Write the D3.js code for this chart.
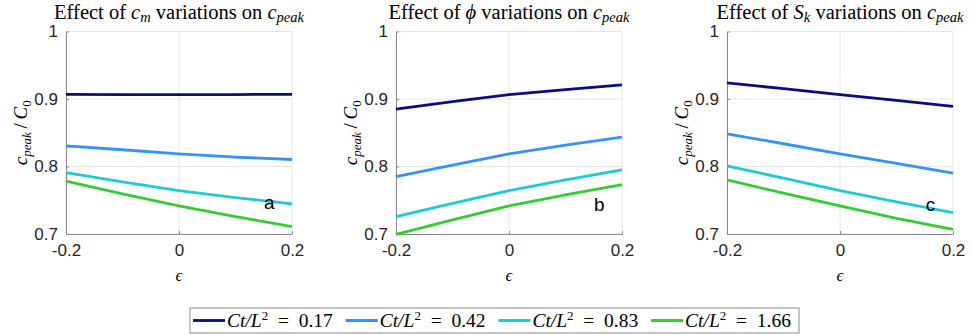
<!DOCTYPE html>
<html>
<head>
<meta charset="utf-8">
<script src="https://cdn.jsdelivr.net/npm/d3@7/dist/d3.min.js"></script>
<style>
  html, body { margin: 0; padding: 0; background: #fff; }
  svg { display: block; }
  .tick-label { font-family: "Liberation Sans", Arial, sans-serif; font-size: 17px; fill: #262626; }
  .serif { font-family: "Liberation Serif", "DejaVu Serif", serif; fill: #000; }
</style>
</head>
<body>
<svg id="chart" width="974" height="335"></svg>
<script>
// ---------------- data ----------------
const epsilon = [-0.2, -0.1, 0, 0.1, 0.2];
const seriesLabels = ["0.17", "0.42", "0.83", "1.66"];

// Effect of c_m
const cmSeries = [
  [0.907, 0.9066, 0.9064, 0.9066, 0.907],
  [0.8307, 0.8248, 0.8188, 0.8139, 0.8104],
  [0.7911, 0.7772, 0.7644, 0.7540, 0.7446],
  [0.7782, 0.7594, 0.7416, 0.7257, 0.7109]
];
// Effect of phi
const phiSeries = [
  [0.8851, 0.8960, 0.9064, 0.9140, 0.9208],
  [0.7851, 0.8020, 0.8188, 0.8317, 0.8436],
  [0.7257, 0.7455, 0.7644, 0.7802, 0.7950],
  [0.6995, 0.7208, 0.7416, 0.7580, 0.7733]
];
// Effect of S_k
const skSeries = [
  [0.9238, 0.9153, 0.9064, 0.8980, 0.8891],
  [0.8485, 0.8337, 0.8188, 0.8045, 0.7901],
  [0.8010, 0.7827, 0.7644, 0.7475, 0.7317],
  [0.7802, 0.7604, 0.7416, 0.7233, 0.7069]
];

const xTicks = [-0.2, 0, 0.2];
const xTickLabels = ["-0.2", "0", "0.2"];
const yTicks = [0.7, 0.8, 0.9, 1];
const yTickLabels = ["0.7", "0.8", "0.9", "1"];
const panelLetters = ["a", "b", "c"];
const letterEps = [0.16, 0.16, 0.16];
const letterVal = [0.746, 0.743, 0.744];

// ---------------- style / layout ----------------
const colors = ["#0b0b82", "#3392ff", "#1ccbd4", "#33cc33"];
const panelLefts = [66, 396, 727];
const plotW = 226;
const plotTop = 31.5, plotBottom = 234;
const titles = [
  { pre: "Effect of ", sym: "c", sub: "m" },
  { pre: "Effect of ", sym: "\u03D5", sub: null },
  { pre: "Effect of ", sym: "S", sub: "k" }
];
const panels = [cmSeries, phiSeries, skSeries];

const svg = d3.select("#chart");

panels.forEach((series, pi) => {
  const x = d3.scaleLinear().domain([-0.2, 0.2]).range([panelLefts[pi], panelLefts[pi] + plotW]);
  const y = d3.scaleLinear().domain([0.7, 1]).range([plotBottom, plotTop]);
  const g = svg.append("g");

  // grid
  g.selectAll(".gx").data(xTicks).enter().append("line")
    .attr("x1", d => x(d)).attr("x2", d => x(d))
    .attr("y1", plotTop).attr("y2", plotBottom)
    .attr("stroke", "#e6e6e6").attr("stroke-width", 1);
  g.selectAll(".gy").data(yTicks).enter().append("line")
    .attr("x1", x(-0.2)).attr("x2", x(0.2))
    .attr("y1", d => y(d)).attr("y2", d => y(d))
    .attr("stroke", "#e6e6e6").attr("stroke-width", 1);

  // axes
  const xAxis = d3.axisBottom(x).tickValues(xTicks).tickFormat((d, i) => xTickLabels[i])
    .tickSizeInner(-3).tickSizeOuter(0).tickPadding(10);
  const yAxis = d3.axisLeft(y).tickValues(yTicks).tickFormat((d, i) => yTickLabels[i])
    .tickSizeInner(-3).tickSizeOuter(0).tickPadding(8);

  const gx = g.append("g").attr("transform", `translate(0,${plotBottom})`).call(xAxis);
  const gy = g.append("g").attr("transform", `translate(${panelLefts[pi]},0)`).call(yAxis);
  [gx, gy].forEach(a => {
    a.select(".domain").attr("stroke", "#8c8c8c").attr("stroke-width", 1);
    a.selectAll(".tick line").attr("stroke", "#8c8c8c");
    a.selectAll(".tick text").attr("class", "tick-label").attr("font-size", null).attr("font-family", null);
  });
  gx.selectAll(".tick text").attr("dy", "0.71em");

  // lines
  const line = d3.line().x((d, i) => x(epsilon[i])).y(d => y(d));
  g.selectAll(".series").data(series).enter().append("path")
    .attr("d", d => line(d))
    .attr("fill", "none")
    .attr("stroke", (d, i) => colors[i])
    .attr("stroke-width", 2.8)
    .attr("stroke-linejoin", "round");

  // panel letter
  g.append("text")
    .attr("x", x(letterEps[pi])).attr("y", y(letterVal[pi]))
    .attr("text-anchor", "middle").attr("dominant-baseline", "central")
    .attr("font-family", "Liberation Sans, Arial, sans-serif")
    .attr("font-size", 19).attr("fill", "#000")
    .text(panelLetters[pi]);

  // title
  const cx = x(0);
  const t = g.append("text").attr("class", "serif")
    .attr("x", cx).attr("y", 19).attr("text-anchor", "middle").attr("font-size", 20.5);
  t.append("tspan").text(titles[pi].pre);
  t.append("tspan").attr("font-style", "italic").text(titles[pi].sym);
  if (titles[pi].sub) t.append("tspan").attr("font-style", "italic").attr("font-size", 14.5).attr("dy", 3).text(titles[pi].sub);
  t.append("tspan").attr("dy", titles[pi].sub ? -3 : 0).text(" variations on ");
  t.append("tspan").attr("font-style", "italic").text("c");
  t.append("tspan").attr("font-style", "italic").attr("font-size", 14.5).attr("dy", 3).text("peak");

  // y label
  const yl = g.append("text").attr("class", "serif")
    .attr("transform", `translate(${panelLefts[pi] - 39},${(plotTop + plotBottom) / 2}) rotate(-90)`)
    .attr("text-anchor", "middle").attr("font-size", 19).attr("font-style", "italic").attr("fill", "#262626");
  yl.append("tspan").text("c");
  yl.append("tspan").attr("font-size", 13).attr("dy", 4).text("peak");
  yl.append("tspan").attr("dy", -4).attr("font-style", "normal").text("\u2009/\u2009");
  yl.append("tspan").text("C");
  yl.append("tspan").attr("font-size", 13).attr("dy", 4).attr("font-style", "normal").text("0");

  // x label
  g.append("text").attr("class", "serif")
    .attr("x", cx).attr("y", 281).attr("text-anchor", "middle")
    .attr("font-size", 17).attr("font-style", "italic").attr("fill", "#262626")
    .text("\u03F5");
});

// ---------------- legend ----------------
const legX = 190, legY = 308, legW = 609, legH = 25;
const leg = svg.append("g");
leg.append("rect").attr("x", legX).attr("y", legY).attr("width", legW).attr("height", legH)
  .attr("fill", "#fff").attr("stroke", "#8c8c8c").attr("stroke-width", 1);
const entryW = 152.7;
seriesLabels.forEach((lab, i) => {
  const ex = legX + 3 + i * entryW;
  const cy = legY + legH / 2;
  leg.append("line").attr("x1", ex).attr("x2", ex + 32).attr("y1", cy).attr("y2", cy)
    .attr("stroke", colors[i]).attr("stroke-width", 2.8);
  const t = leg.append("text").attr("class", "serif").attr("x", ex + 34).attr("y", cy + 6.5)
    .attr("font-size", 19.5);
  t.append("tspan").attr("font-style", "italic").text("C");
  t.append("tspan").attr("font-style", "italic").text("t/L");
  t.append("tspan").attr("font-size", 13).attr("dy", -7).text("2");
  t.append("tspan").attr("dy", 7).text("\u2002=\u2002" + lab);
});
</script>
</body>
</html>
